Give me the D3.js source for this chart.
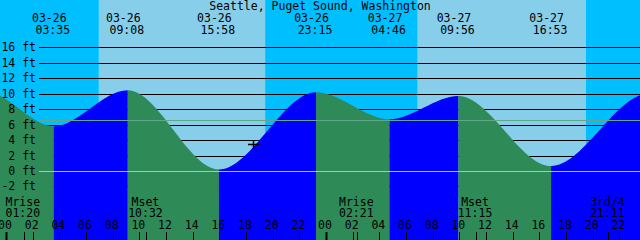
<!DOCTYPE html>
<html>
<head>
<meta charset="utf-8">
<script src="https://cdn.jsdelivr.net/npm/d3@7"></script>
<style>
  html, body { margin: 0; padding: 0; background: #fff; }
  svg { display: block; }
  text { font-family: "DejaVu Sans Mono", monospace; font-size: 11.5px; fill: #000; }
</style>
</head>
<body>
<div class="canvas"></div>
<script>
// tide extremes (times local), heights in ft
const tideTimes = ["03-25 15:40", "03-25 22:24", "03-26 03:35", "03-26 09:08", "03-26 15:58",
                   "03-26 23:15", "03-27 04:46", "03-27 09:56", "03-27 16:53", "03-28 00:12", "03-28 05:40"];
const tideLevels = [0.8, 10.3, 5.8, 10.45, 0.2, 10.2, 6.7, 9.7, 0.65, 10.0, 7.0];

// sun: night/day boundaries
const sunTimes = ["03-25 23:33", "03-26 06:58", "03-26 19:26", "03-27 06:53", "03-27 19:30", "03-27 23:33"];
const sunIsDay = [false, true, false, true, false];

// moon events along the bottom
const moonTimes = ["03-26 01:20", "03-26 10:32", "03-27 02:21", "03-27 11:15", "03-27 21:11"];
const moonNames = ["Mrise", "Mset", "Mrise", "Mset", "3rd/4"];

const feetTicks = [-2, 0, 2, 4, 6, 8, 10, 12, 14, 16];
const meanLevel = 6.56;
const nowTime = "03-26 18:32";
const nowLevel = 3.5;
const title = "Seattle, Puget Sound, Washington";

const width = 640, height = 240;
const parse = d3.timeParse("%m-%d %H:%M");

const svg = d3.select('.canvas')
    .append('svg')
        .attr('width', width)
        .attr('height', height);

const x = d3.scaleTime()
    .domain([parse("03-25 23:33"), parse("03-27 23:33")])
    .range([0, width]);

const y = d3.scaleLinear()
    .domain([0, 16])
    .range([171, 47.3]);

// day / night background
const bands = d3.pairs(sunTimes.map(parse));
svg.selectAll('rect.sky').data(bands)
    .enter().append('rect')
        .attr('class', 'sky')
        .attr('x', d => x(d[0]))
        .attr('width', d => x(d[1]) - x(d[0]))
        .attr('y', 0)
        .attr('height', height)
        .attr('fill', (d, i) => sunIsDay[i] ? '#87ceeb' : '#00bfff');

// grid lines behind the water
svg.selectAll('line.grid').data(feetTicks)
    .enter().append('line')
        .attr('class', 'grid')
        .attr('x1', 39).attr('x2', width)
        .attr('y1', d => Math.round(y(d)) + 0.5)
        .attr('y2', d => Math.round(y(d)) + 0.5)
        .attr('stroke', '#000');

// tide area, split into flood (blue) and ebb (green)
const tide = tideTimes.map((t, i) => ({t: parse(t), level: tideLevels[i]}));
const area = d3.area()
    .x(d => x(d.t))
    .y0(height)
    .y1(d => y(d.level))
    .curve(d3.curveMonotoneX);

svg.append('clipPath').attr('id', 'water')
    .append('path').attr('d', area(tide));

svg.append('g').attr('clip-path', 'url(#water)')
    .selectAll('rect').data(d3.pairs(tide))
    .enter().append('rect')
        .attr('x', d => x(d[0].t))
        .attr('width', d => x(d[1].t) - x(d[0].t))
        .attr('y', 0)
        .attr('height', height)
        .attr('fill', d => d[1].level > d[0].level ? '#0000ff' : '#2e8b57');

// datum and mean level lines
svg.append('line')
    .attr('x1', 39).attr('x2', width)
    .attr('y1', Math.round(y(0)) + 0.5).attr('y2', Math.round(y(0)) + 0.5)
    .attr('stroke', '#87ceeb');
svg.append('line')
    .attr('x1', 39).attr('x2', width)
    .attr('y1', Math.round(y(meanLevel)) + 0.5).attr('y2', Math.round(y(meanLevel)) + 0.5)
    .attr('stroke', '#5fa88a');

// y labels
svg.selectAll('text.ft').data(feetTicks)
    .enter().append('text')
        .attr('class', 'ft')
        .attr('x', 36)
        .attr('y', d => y(d) + 4)
        .attr('text-anchor', 'end')
        .text(d => d + ' ft');

// title
svg.append('text')
    .attr('x', 320).attr('y', 10)
    .attr('text-anchor', 'middle')
    .text(title);

// tide event labels on top
const [t0, t1] = x.domain();
const shown = tide.filter(d => d.t > t0 && d.t < t1);
const fmtDate = d3.timeFormat("%m-%d"), fmtTime = d3.timeFormat("%H:%M");
svg.selectAll('text.edate').data(shown)
    .enter().append('text')
        .attr('x', d => x(d.t) - 4.5).attr('y', 22)
        .attr('text-anchor', 'middle')
        .text(d => fmtDate(d.t));
svg.selectAll('text.etime').data(shown)
    .enter().append('text')
        .attr('x', d => x(d.t) - 1).attr('y', 34)
        .attr('text-anchor', 'middle')
        .text(d => fmtTime(d.t));

// moon events
const moon = moonTimes.map((t, i) => ({t: parse(t), name: moonNames[i]}));
const moonG = svg.selectAll('g.moon').data(moon)
    .enter().append('g')
        .attr('transform', d => `translate(${x(d.t) - 1},0)`);
moonG.append('text').attr('y', 206).attr('text-anchor', 'middle').text(d => d.name);
moonG.append('text').attr('y', 217).attr('text-anchor', 'middle').text(d => fmtTime(d.t));
svg.selectAll('line.mtick').data(moon)
    .enter().append('line')
        .attr('x1', d => Math.round(x(d.t)) + 0.5).attr('x2', d => Math.round(x(d.t)) + 0.5)
        .attr('y1', 232).attr('y2', height)
        .attr('stroke', '#000');

// hour axis along the bottom
const hours = d3.timeHour.every(2).range(t0, t1);
svg.selectAll('text.hour').data(hours)
    .enter().append('text')
        .attr('x', d => x(d) - 1).attr('y', 229)
        .attr('text-anchor', 'middle')
        .text(d3.timeFormat("%H"));
svg.selectAll('line.htick').data(hours)
    .enter().append('line')
        .attr('x1', d => Math.round(x(d)) + 0.5).attr('x2', d => Math.round(x(d)) + 0.5)
        .attr('y1', 232).attr('y2', height)
        .attr('stroke', '#000')
        .attr('stroke-width', d => d.getHours() === 0 ? 2 : 1);

// current time marker
svg.append('path')
    .attr('transform', `translate(${Math.round(x(parse(nowTime)))},${Math.round(y(nowLevel))})`)
    .attr('d', 'M-5,0.5H6M0.5,-4V5')
    .attr('stroke', '#000')
    .attr('stroke-width', 1.5)
    .attr('fill', 'none');
</script>
</body>
</html>
